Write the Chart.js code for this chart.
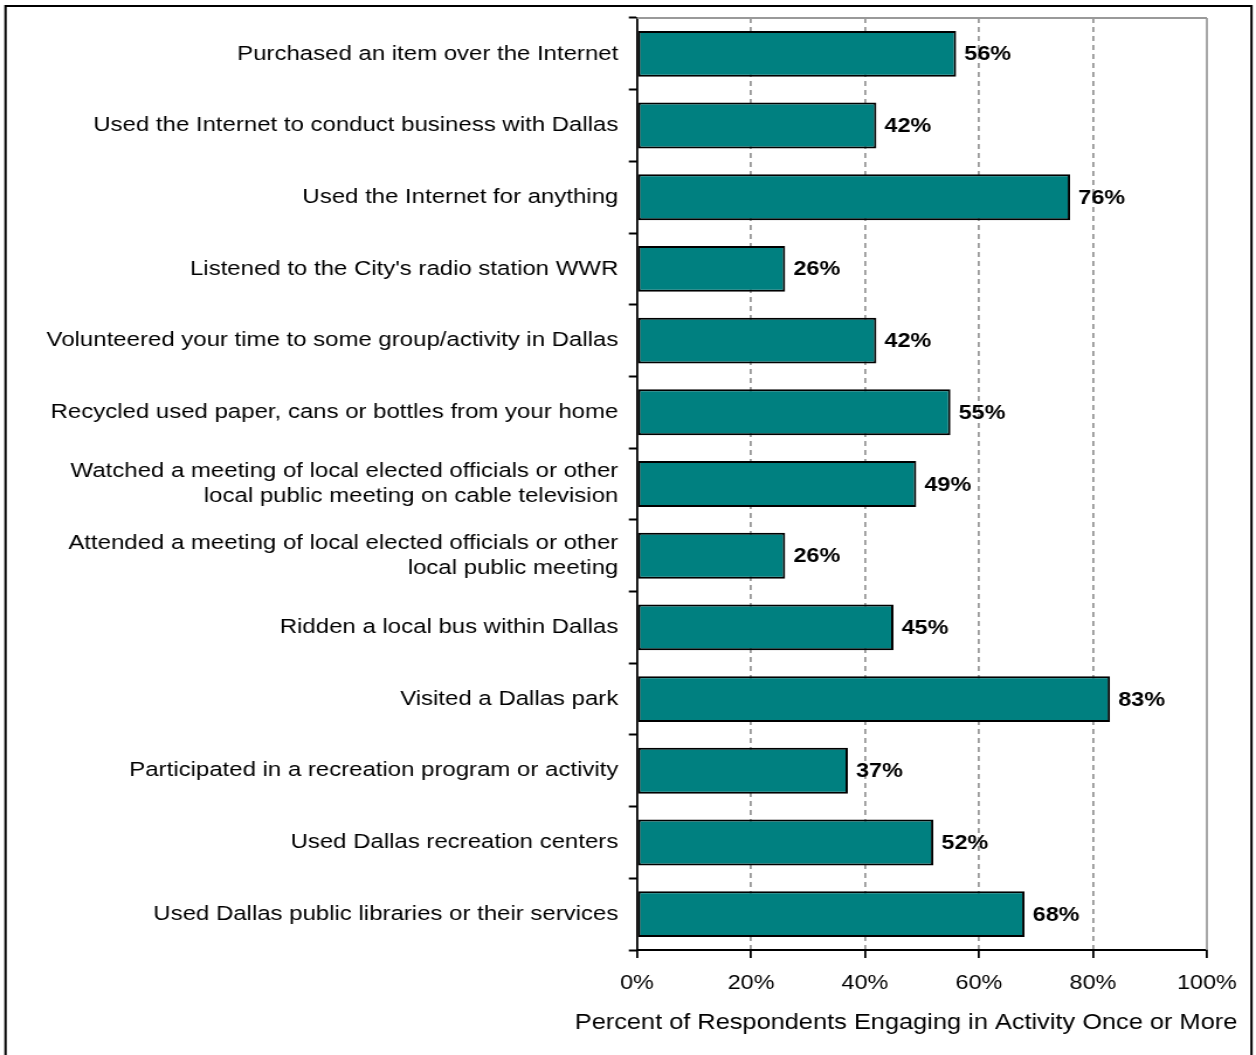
<!DOCTYPE html>
<html>
<head>
<meta charset="utf-8">
<script src="https://cdn.jsdelivr.net/npm/chart.js@4"></script>
<style>
    html, body { margin: 0; padding: 0; background: #fff; }
    #activityChart { display: block; }
</style>
</head>
<body>
<!-- drawn narrower and stretched sideways: the source picture has wide, stretched glyphs -->
<canvas id="activityChart" width="1074" height="1055" style="width:1256px;height:1055px"></canvas>
<script>
// Activities, top to bottom
const activities = [
    'Purchased an item over the Internet',
    'Used the Internet to conduct business with Dallas',
    'Used the Internet for anything',
    "Listened to the City's radio station WWR",
    'Volunteered your time to some group/activity in Dallas',
    'Recycled used paper, cans or bottles from your home',
    ['Watched a meeting of local elected officials or other', 'local public meeting on cable television'],
    ['Attended a meeting of local elected officials or other', 'local public meeting'],
    'Ridden a local bus within Dallas',
    'Visited a Dallas park',
    'Participated in a recreation program or activity',
    'Used Dallas recreation centers',
    'Used Dallas public libraries or their services'
];

// Percent engaging once or more
const percentOnceOrMore = [56, 42, 76, 26, 42, 55, 49, 26, 45, 83, 37, 52, 68];

const xTicks = [0, 20, 40, 60, 80, 100];
const xTitle = 'Percent of Respondents Engaging in Activity Once or More';

const FONT = '"Liberation Sans", Arial, sans-serif';
const SX = 1256 / 1074;  // horizontal stretch of the canvas

// outer frame + gray top/right plot border
const framePlugin = {
    id: 'frame',
    beforeDraw(chart) {
        const ctx = chart.ctx;
        ctx.save();
        ctx.strokeStyle = '#000';
        ctx.lineWidth = 2;
        ctx.strokeRect(5.5 / SX, 6, 1246 / SX, 1060);
        ctx.restore();
    },
    beforeDatasetsDraw(chart) {
        const { ctx, chartArea } = chart;
        ctx.save();
        ctx.strokeStyle = '#999';
        ctx.lineWidth = 2;
        ctx.beginPath();
        ctx.moveTo(chartArea.left, chartArea.top);
        ctx.lineTo(chartArea.right, chartArea.top);
        ctx.stroke();
        ctx.lineWidth = 2 / SX;
        ctx.beginPath();
        ctx.moveTo(chartArea.right, chartArea.top);
        ctx.lineTo(chartArea.right, chartArea.bottom);
        ctx.stroke();
        ctx.restore();
    },
    // axis title runs wider than the plot, so it is drawn here rather than by the scale
    afterDraw(chart) {
        const ctx = chart.ctx;
        ctx.save();
        ctx.font = '21.7px ' + FONT;
        ctx.fillStyle = '#000';
        ctx.textAlign = 'center';
        ctx.textBaseline = 'middle';
        ctx.fillText(xTitle, 906 / SX, 1023);
        ctx.restore();
    }
};

// bold value labels to the right of each bar
const valueLabels = {
    id: 'valueLabels',
    afterDatasetsDraw(chart) {
        const ctx = chart.ctx;
        const meta = chart.getDatasetMeta(0);
        ctx.save();
        ctx.font = 'bold 20px ' + FONT;
        ctx.fillStyle = '#000';
        ctx.textAlign = 'left';
        ctx.textBaseline = 'middle';
        meta.data.forEach((bar, i) => {
            ctx.fillText(percentOnceOrMore[i] + '%', bar.x + 7, bar.y + 1);
        });
        ctx.restore();
    }
};

const ctx = document.getElementById('activityChart').getContext('2d');
new Chart(ctx, {
    type: 'bar',
    data: {
        labels: activities,
        datasets: [{
            data: percentOnceOrMore,
            backgroundColor: '#008080',
            borderColor: '#000',
            borderWidth: 2,
            borderSkipped: false,
            categoryPercentage: 1,
            barPercentage: 0.64
        }]
    },
    options: {
        indexAxis: 'y',
        responsive: false,
        animation: false,
        devicePixelRatio: 1,
        layout: { padding: { top: 18, right: 42, bottom: 0, left: 0 } },
        plugins: {
            legend: { display: false },
            tooltip: { enabled: false }
        },
        scales: {
            x: {
                min: 0,
                max: 100,
                afterBuildTicks: scale => { scale.ticks = xTicks.map(v => ({ value: v })); },
                afterFit: scale => {
                    scale.height = 105;
                    scale.paddingLeft = 0;
                    scale.paddingRight = 0;
                },
                ticks: {
                    callback: v => v + '%',
                    color: '#000',
                    font: { family: FONT, size: 20 },
                    padding: 13
                },
                grid: {
                    color: c => (c.tick && (c.tick.value === 0 || c.tick.value === 100)) ? 'rgba(0,0,0,0)' : '#999',
                    lineWidth: 1.8,
                    tickColor: '#000',
                    tickWidth: 1.8,
                    tickLength: 8
                },
                border: { color: '#000', width: 2, dash: [5, 4] }
            },
            y: {
                afterFit: scale => {
                    scale.width = 637 / SX;
                    scale.paddingTop = 0;
                    scale.paddingBottom = 0;
                },
                ticks: {
                    color: '#000',
                    font: { family: FONT, size: 20.5 },
                    padding: 9
                },
                grid: {
                    drawOnChartArea: false,
                    offset: true,
                    tickColor: '#000',
                    tickWidth: 2,
                    tickLength: 7
                },
                border: { color: '#000', width: 1.8 }
            }
        }
    },
    plugins: [framePlugin, valueLabels]
});
</script>
</body>
</html>
